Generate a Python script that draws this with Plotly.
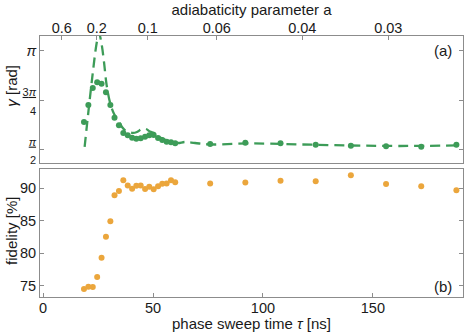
import plotly.graph_objects as go

# ----------------------------
# data
# ----------------------------
# dense scan (tau in ns)
tau_dense = [18.6, 20.6, 22.6, 24.6, 26.6, 28.6, 30.6, 32.5, 34.5, 36.5, 38.5,
             40.5, 42.4, 44.4, 46.4, 48.3, 50.3, 52.3, 54.2, 56.2, 58.2, 60.1]
gamma_dense = [2.013, 2.282, 2.551, 2.641, 2.619, 2.483, 2.282, 2.081, 1.961, 1.840, 1.803,
               1.765, 1.749, 1.756, 1.781, 1.803, 1.808, 1.760, 1.729, 1.702, 1.693, 1.677]
fid_dense = [74.5, 74.85, 74.8, 76.35, 79.3, 82.55, 84.95, 88.95, 89.6, 91.25, 90.45,
             89.95, 90.4, 90.45, 89.9, 90.25, 89.85, 90.3, 90.7, 90.75, 91.25, 90.95]

# sparse scan
tau_sparse = [76, 92, 108, 124, 140, 156, 172, 188]
gamma_sparse = [1.666, 1.686, 1.677, 1.655, 1.639, 1.629, 1.623, 1.655]
fid_sparse = [90.75, 90.9, 91.15, 91.1, 92.0, 90.65, 90.3, 89.7]

# theory curve for gamma
tau_theory = [18.9, 20.7, 22.5, 24.3, 25.4, 26.6, 27.7, 28.9, 30.5, 32.3, 34.1, 35.9,
              37.7, 40.9, 42.7, 45.0, 46.8, 48.6, 50.9, 53.2, 55.9, 58.6, 61.4, 64.5,
              69.1, 75.9, 94.1, 116.8, 139.5, 162.3, 187.7]
gamma_theory = [1.618, 2.203, 2.756, 3.246, 3.42, 3.246, 2.962, 2.598, 2.314, 2.140, 2.045,
                1.934, 1.871, 1.840, 1.855, 1.903, 1.903, 1.863, 1.832, 1.768, 1.729, 1.697,
                1.681, 1.697, 1.681, 1.658, 1.674, 1.658, 1.642, 1.634, 1.642]

# top axis: adiabaticity parameter
a_labels = ['0.6', '0.2', '0.1', '0.06', '0.04', '0.03']
a_tau = [8.5, 24.4, 47.6, 79.0, 117.9, 157.0]

GREEN = '#3d9c58'
ORANGE = '#eba63c'
FRAME = '#8c8c8c'
TXT = '#1a1a1a'
FONT = 'Liberation Sans, Arial, sans-serif'
PI = 3.141592653589793

fig = go.Figure()

fig.add_trace(go.Scatter(
    x=tau_theory, y=gamma_theory, mode='lines', line_shape='spline',
    line=dict(color=GREEN, width=2.3, dash='10px,6px'),
    xaxis='x', yaxis='y'
))
fig.add_trace(go.Scatter(
    x=tau_dense + tau_sparse, y=gamma_dense + gamma_sparse, mode='markers',
    marker=dict(color=GREEN, size=6),
    xaxis='x', yaxis='y'
))
fig.add_trace(go.Scatter(
    x=tau_dense + tau_sparse, y=fid_dense + fid_sparse, mode='markers',
    marker=dict(color=ORANGE, size=6),
    xaxis='x2', yaxis='y2'
))
# invisible trace to activate top axis
fig.add_trace(go.Scatter(x=[a_tau[0]], y=[3.0], mode='markers', marker=dict(opacity=0),
                         xaxis='x3', yaxis='y', hoverinfo='skip'))

XR = [-1.4, 191]
common_x = dict(range=XR, showline=True, linecolor=FRAME, linewidth=1, showgrid=False,
                zeroline=False, automargin=False,
                tickfont=dict(size=14.5, color=TXT, family=FONT))
common_y = dict(showline=True, linecolor=FRAME, linewidth=1, showgrid=False, zeroline=False,
                ticks='inside', ticklen=4, tickcolor=FRAME, mirror='ticks', automargin=False,
                tickfont=dict(size=14.5, color=TXT, family=FONT))

frac = '<span style="font-size:11px"><span style="text-decoration:underline">{}</span><br>{}</span>'

fig.update_layout(
    width=469, height=332,
    margin=dict(l=40, r=6, t=36, b=35),
    plot_bgcolor='white', paper_bgcolor='white',
    showlegend=False,
    font=dict(family=FONT, color=TXT),
    xaxis=dict(common_x, anchor='y', showticklabels=False, ticks='', mirror=False),
    yaxis=dict(common_y, domain=[0.5134, 1], range=[1.365, 3.372],
               tickvals=[PI / 2, 3 * PI / 4, PI],
               ticktext=[frac.format('<i>π</i>', '2'),
                         frac.format('3<i>π</i>', '4'),
                         '<i>π</i>']),
    xaxis2=dict(common_x, anchor='y2', ticks='inside', ticklen=4, tickcolor=FRAME, mirror=True,
                tickvals=[0, 50, 100, 150], ticklabelstandoff=-2,
                title=dict(text='phase sweep time <i>τ</i> [ns]', standoff=0,
                           font=dict(size=15, color=TXT))),
    yaxis2=dict(common_y, domain=[0, 0.4904], range=[73.28, 92.97],
                tickvals=[75, 80, 85, 90]),
    xaxis3=dict(common_x, overlaying='x', anchor='y', side='top', ticks='inside', ticklen=4,
                tickcolor=FRAME, tickvals=a_tau, ticktext=a_labels, showline=True, mirror=True,
                ticklabelstandoff=-4,
                title=dict(text='adiabaticity parameter a', standoff=0,
                           font=dict(size=15, color=TXT))),
)

# axis labels on the left and panel tags
fig.add_annotation(text='<i>γ</i> [rad]', textangle=-90, xref='paper', yref='paper',
                   x=-0.066, y=0.81, xanchor='center', yanchor='middle',
                   showarrow=False, font=dict(size=15, color=TXT))
fig.add_annotation(text='fidelity [%]', textangle=-90, xref='paper', yref='paper',
                   x=-0.068, y=0.254, xanchor='center', yanchor='middle',
                   showarrow=False, font=dict(size=15, color=TXT))
fig.add_annotation(text='(a)', xref='paper', yref='paper', x=0.978, y=0.945,
                   xanchor='right', yanchor='middle', showarrow=False,
                   font=dict(size=15, color=TXT))
fig.add_annotation(text='(b)', xref='paper', yref='paper', x=0.978, y=0.042,
                   xanchor='right', yanchor='middle', showarrow=False,
                   font=dict(size=15, color=TXT))

# drop the default page margin so the figure sits at the window's corner
fig.write_html('out.html', config={'displayModeBar': False},
               post_script="document.body.style.margin='0';")
